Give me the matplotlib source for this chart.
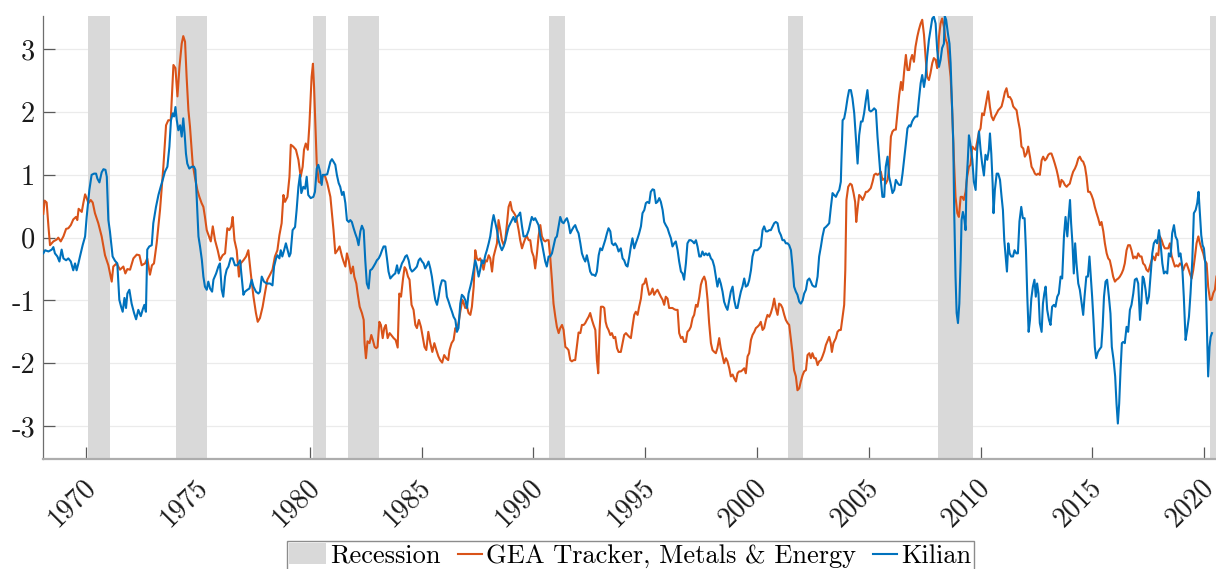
import matplotlib
matplotlib.use("Agg")
import matplotlib.pyplot as plt
from matplotlib.patches import Patch
from matplotlib.lines import Line2D
from matplotlib.legend_handler import HandlerBase
import matplotlib.transforms as mtransforms

# ---------------- data ----------------
gea_years = [
1968.08,1968.14,1968.23,1968.31,1968.38,1968.53,1968.68,1968.75,1968.86,1968.98,1969.10,1969.20,1969.31,1969.42,1969.54,1969.60,1969.66,1969.80,1969.87,1969.95,
1970.02,1970.10,1970.20,1970.29,1970.39,1970.54,1970.69,1970.84,1970.99,1971.14,1971.21,1971.36,1971.51,1971.66,1971.75,1971.84,1971.96,1972.11,1972.26,1972.38,
1972.48,1972.63,1972.73,1972.85,1972.94,1973.03,1973.15,1973.30,1973.45,1973.57,1973.67,1973.78,1973.90,1973.99,1974.08,1974.17,1974.27,1974.34,1974.42,1974.49,
1974.57,1974.64,1974.76,1974.87,1974.97,1975.06,1975.16,1975.24,1975.31,1975.39,1975.49,1975.57,1975.66,1975.76,1975.88,1975.98,1976.10,1976.21,1976.31,1976.40,
1976.49,1976.55,1976.63,1976.73,1976.83,1976.91,1977.03,1977.15,1977.25,1977.36,1977.48,1977.59,1977.67,1977.77,1977.89,1977.99,1978.10,1978.22,1978.33,1978.44,
1978.55,1978.64,1978.74,1978.82,1978.89,1979.00,1979.09,1979.15,1979.26,1979.38,1979.49,1979.59,1979.68,1979.74,1979.82,1979.91,1979.98,1980.08,1980.14,1980.19,
1980.25,1980.31,1980.40,1980.49,1980.58,1980.68,1980.78,
1980.92,1980.99,1981.06,1981.14,1981.24,1981.33,1981.44,1981.51,1981.59,1981.66,1981.74,1981.84,1981.93,1981.99,1982.08,1982.14,1982.23,1982.33,1982.41,1982.45,
1982.51,1982.58,1982.67,1982.75,1982.82,1982.90,1982.97,1983.03,1983.11,1983.18,1983.26,1983.33,1983.40,1983.48,1983.57,1983.64,1983.75,1983.84,1983.93,1984.00,
1984.08,1984.17,1984.24,1984.31,1984.39,1984.46,1984.55,1984.64,1984.72,1984.79,1984.88,1984.97,1985.06,1985.13,1985.21,1985.30,1985.39,1985.48,1985.57,1985.66,
1985.75,1985.83,1985.92,1986.01,1986.10,1986.19,1986.25,1986.34,1986.43,1986.51,1986.58,1986.66,1986.73,1986.82,1986.88,1986.95,1987.03,1987.10,1987.18,1987.25,
1987.33,1987.40,1987.47,1987.55,1987.62,1987.70,1987.77,1987.85,1987.92,1988.00,1988.07,1988.15,1988.22,1988.29,1988.37,1988.44,1988.52,1988.59,1988.67,1988.74,
1988.82,1988.89,1988.97,1989.04,1989.14,1989.23,1989.34,1989.41,1989.49,1989.56,1989.64,1989.71,1989.79,1989.86,1989.93,1990.01,1990.08,1990.16,1990.23,1990.31,
1990.38,1990.46,1990.53,1990.60,1990.68,1990.75,1990.83,1990.90,1990.98,1991.05,1991.13,1991.20,1991.28,1991.35,1991.43,1991.50,1991.57,1991.65,1991.72,1991.80,
1991.87,1991.95,1992.02,1992.10,1992.17,1992.25,1992.32,1992.39,1992.47,1992.54,1992.62,1992.69,1992.77,1992.84,1992.90,1992.96,1993.02,1993.11,1993.17,1993.23,
1993.29,1993.36,1993.44,1993.51,1993.59,1993.66,1993.74,1993.81,
1993.91,1993.99,1994.06,1994.14,1994.21,1994.29,1994.36,1994.43,1994.51,1994.58,1994.66,1994.73,1994.81,1994.88,1994.96,1995.03,1995.10,1995.18,1995.25,1995.33,
1995.40,1995.48,1995.55,1995.63,1995.70,1995.78,1995.85,1995.92,1996.00,1996.07,1996.15,1996.22,1996.30,1996.37,1996.45,1996.52,1996.60,1996.67,1996.74,1996.82,
1996.89,1996.97,1997.04,1997.12,1997.19,1997.27,1997.34,1997.42,1997.49,1997.56,1997.64,1997.71,1997.79,1997.86,1997.94,1998.01,1998.09,1998.16,1998.23,1998.31,
1998.38,1998.46,1998.53,1998.61,1998.68,1998.76,1998.83,1998.91,1998.98,1999.06,1999.13,1999.20,1999.28,1999.35,1999.43,1999.50,1999.58,1999.65,1999.73,1999.80,
1999.88,1999.95,2000.02,2000.10,2000.17,2000.25,2000.32,2000.40,2000.47,2000.55,2000.62,2000.70,2000.77,2000.84,2000.92,2000.99,2001.07,2001.14,2001.22,2001.29,
2001.37,2001.44,2001.52,2001.59,2001.66,2001.74,2001.81,2001.89,2001.96,2002.04,2002.11,2002.19,2002.26,2002.34,2002.41,2002.48,2002.56,2002.63,2002.71,2002.78,
2002.86,2002.93,2003.01,2003.08,2003.17,2003.23,2003.30,2003.35,2003.42,2003.53,2003.60,2003.68,2003.75,2003.83,2003.90,2003.95,2004.00,2004.08,2004.17,2004.24,
2004.32,2004.39,2004.44,2004.50,2004.57,2004.65,2004.72,2004.79,2004.87,2004.94,2005.02,2005.09,2005.17,2005.24,2005.32,2005.39,2005.47,2005.54,2005.61,2005.69,
2005.76,2005.84,2005.91,2005.99,2006.06,2006.14,2006.21,2006.29,2006.36,2006.44,2006.51,2006.58,2006.66,2006.73,2006.81,
2006.87,2006.94,2007.02,2007.09,2007.17,2007.24,2007.32,2007.39,2007.47,2007.54,2007.61,2007.69,2007.76,2007.84,2007.91,2007.99,2008.06,2008.14,2008.21,2008.28,
2008.36,2008.43,2008.51,2008.58,2008.66,2008.73,2008.81,2008.88,2008.96,2009.03,2009.11,2009.18,2009.25,2009.33,2009.40,2009.48,2009.55,2009.63,2009.70,2009.78,
2009.85,2009.93,2010.00,2010.07,2010.15,2010.22,2010.30,2010.34,2010.42,2010.49,2010.57,2010.64,2010.72,2010.79,2010.87,2010.94,2011.01,2011.09,2011.16,2011.24,
2011.31,2011.39,2011.46,2011.53,2011.61,2011.68,2011.76,2011.83,2011.91,2011.98,2012.06,2012.13,2012.21,2012.28,2012.36,2012.43,2012.50,2012.58,2012.65,2012.73,
2012.80,2012.88,2012.95,2013.03,2013.10,2013.17,2013.25,2013.32,2013.40,2013.47,2013.55,2013.62,2013.70,2013.77,2013.85,2013.92,2013.99,2014.07,2014.14,2014.22,
2014.29,2014.37,2014.44,2014.52,2014.59,2014.67,2014.74,2014.81,2014.89,2014.96,2015.04,2015.11,2015.19,2015.26,2015.34,2015.41,2015.49,2015.56,2015.64,2015.71,
2015.78,2015.86,2015.93,2016.01,2016.08,2016.16,2016.23,2016.31,2016.38,2016.45,2016.53,2016.60,2016.68,2016.75,2016.83,2016.90,2016.98,2017.05,2017.13,2017.20,
2017.27,2017.35,2017.42,2017.50,2017.57,2017.65,2017.72,2017.80,2017.87,2017.95,2018.02,2018.10,2018.17,2018.24,2018.32,2018.39,2018.47,2018.54,2018.62,2018.69,
2018.77,2018.84,2018.92,2018.99,2019.06,2019.14,2019.21,2019.29,2019.36,2019.44,2019.51,2019.59,2019.66,2019.74,2019.81,2019.88,2019.96,2020.03,2020.11,2020.18,
2020.26,2020.33,2020.41,2020.48,2020.55]
gea_values = [
0.38,0.59,0.56,0.18,-0.12,-0.06,-0.03,0.00,-0.06,0.02,0.14,0.15,0.20,0.29,0.33,0.28,0.46,0.41,0.55,0.69,
0.63,0.55,0.60,0.56,0.39,0.23,0.02,-0.28,-0.44,-0.70,-0.46,-0.41,-0.51,-0.46,-0.57,-0.50,-0.51,-0.33,-0.27,-0.28,
-0.44,-0.41,-0.33,-0.59,-0.44,-0.41,-0.09,0.44,1.13,1.79,1.87,1.87,2.75,2.70,2.25,2.72,3.09,3.21,3.12,2.56,
2.03,1.77,1.18,0.94,0.76,0.65,0.55,0.49,0.33,0.12,0.02,-0.06,0.18,-0.04,-0.20,-0.36,-0.28,-0.25,0.15,0.12,
0.18,0.33,-0.04,-0.20,-0.62,-0.41,-0.36,-0.30,-0.20,-0.57,-0.94,-1.20,-1.34,-1.28,-1.10,-0.89,-0.67,-0.59,-0.51,-0.30,
-0.20,0.04,0.23,0.68,0.57,0.65,0.97,1.48,1.45,1.40,1.24,0.97,1.13,1.40,1.50,1.40,1.79,2.56,2.77,2.40,
1.77,1.18,0.89,0.87,1.00,0.98,0.87,
0.65,0.39,0.12,-0.25,-0.20,-0.14,-0.30,-0.38,-0.46,-0.25,-0.36,-0.57,-0.46,-0.62,-0.73,-0.89,-1.10,-1.20,-1.31,-1.68,
-1.92,-1.65,-1.68,-1.55,-1.63,-1.74,-1.76,-1.74,-1.34,-1.39,-1.60,-1.44,-1.39,-1.60,-1.52,-1.55,-1.60,-1.63,-1.75,-0.89,
-0.94,-0.65,-0.47,-0.51,-0.62,-0.67,-1.07,-1.15,-1.39,-1.44,-1.31,-1.42,-1.60,-1.74,-1.79,-1.50,-1.68,-1.82,-1.68,-1.79,
-1.89,-1.95,-1.99,-1.87,-1.92,-1.95,-1.79,-1.68,-1.63,-1.44,-1.47,-1.34,-1.18,-0.99,-1.04,-1.12,-1.10,-1.20,-1.23,-1.10,
-0.78,-0.20,-0.33,-0.36,-0.33,-0.41,-0.51,-0.36,-0.38,-0.28,-0.33,-0.54,-0.30,-0.20,-0.09,0.28,0.12,-0.04,-0.12,-0.04,
0.23,0.49,0.57,0.44,0.39,0.33,0.12,-0.04,-0.17,-0.09,-0.01,0.02,-0.04,-0.04,-0.22,-0.30,-0.49,-0.25,0.02,0.20,
0.02,-0.04,-0.06,-0.04,-0.04,-0.30,-0.68,-1.05,-1.26,-1.42,-1.52,-1.44,-1.39,-1.47,-1.74,-1.76,-1.79,-1.95,-1.97,-1.95,
-1.95,-1.71,-1.51,-1.52,-1.39,-1.39,-1.36,-1.31,-1.26,-1.20,-1.31,-1.39,-1.47,-1.95,-2.16,-1.47,-1.10,-1.10,-1.12,-1.34,
-1.42,-1.47,-1.55,-1.52,-1.60,-1.58,-1.76,-1.82,
-1.82,-1.68,-1.55,-1.52,-1.55,-1.58,-1.60,-1.42,-1.23,-1.18,-1.23,-1.10,-0.97,-0.75,-0.73,-0.65,-0.78,-0.91,-0.89,-0.81,
-0.91,-0.86,-0.83,-0.89,-0.94,-0.99,-1.07,-0.94,-0.97,-1.12,-1.12,-1.12,-1.14,-1.15,-1.15,-1.52,-1.60,-1.58,-1.66,-1.66,
-1.50,-1.47,-1.42,-1.28,-1.23,-1.07,-1.10,-0.94,-0.75,-0.67,-0.62,-0.70,-0.99,-1.36,-1.68,-1.79,-1.82,-1.84,-1.76,-1.60,
-1.76,-1.89,-2.00,-1.92,-1.97,-2.08,-2.21,-2.18,-2.24,-2.29,-2.16,-2.13,-2.13,-2.11,-2.08,-2.16,-1.89,-1.84,-1.63,-1.55,
-1.50,-1.44,-1.42,-1.39,-1.34,-1.47,-1.44,-1.31,-1.23,-1.26,-1.20,-1.10,-0.97,-1.12,-1.23,-1.05,-1.07,-1.12,-1.23,-1.31,
-1.36,-1.39,-1.63,-1.84,-2.11,-2.21,-2.43,-2.40,-2.29,-2.19,-2.13,-2.11,-1.87,-1.84,-1.92,-1.84,-1.92,-1.92,-2.03,-1.97,
-1.95,-1.89,-1.81,-1.71,-1.63,-1.58,-1.68,-1.82,-1.68,-1.60,-1.50,-1.47,-1.47,-1.26,-1.07,-0.52,0.60,0.81,0.86,0.84,
0.71,0.57,0.25,0.46,0.68,0.65,0.60,0.65,0.73,0.73,0.76,0.79,0.89,1.00,1.02,1.00,1.02,1.05,0.92,0.94,
0.86,0.92,1.10,1.61,1.69,1.72,1.72,2.01,2.27,2.48,2.35,2.64,2.91,2.67,2.67,
2.83,2.91,2.80,3.04,3.20,3.31,3.41,3.47,3.23,2.88,2.56,2.51,2.62,2.78,2.86,2.83,2.70,3.20,3.41,3.49,
3.36,3.17,3.09,2.83,2.56,2.03,1.23,0.65,0.39,0.33,0.65,0.65,0.60,0.73,0.97,1.13,1.16,1.45,1.42,1.40,
1.53,1.69,1.74,1.98,1.95,2.09,2.25,2.33,2.08,1.93,1.87,1.93,1.98,2.03,2.06,2.09,2.19,2.32,2.38,2.24,
2.24,2.19,2.09,2.06,2.03,1.87,1.72,1.45,1.42,1.29,1.34,1.45,1.29,1.13,1.08,1.02,1.00,1.02,1.00,1.23,
1.29,1.23,1.26,1.32,1.34,1.34,1.26,1.18,1.08,0.97,0.81,0.92,0.89,0.84,0.81,0.84,0.86,0.97,1.05,1.10,
1.16,1.26,1.29,1.23,1.21,1.13,0.97,0.73,0.73,0.68,0.60,0.49,0.39,0.31,0.20,0.25,0.10,-0.09,-0.25,-0.33,
-0.36,-0.49,-0.62,-0.70,-0.67,-0.65,-0.62,-0.57,-0.51,-0.41,-0.20,-0.12,-0.12,-0.20,-0.33,-0.30,-0.33,-0.25,-0.30,-0.30,
-0.41,-0.44,-0.51,-0.54,-0.46,-0.36,-0.30,-0.36,-0.25,-0.28,0.02,-0.04,-0.12,-0.17,-0.17,-0.17,-0.09,-0.28,-0.38,-0.46,
-0.44,-0.46,-0.41,-0.44,-0.52,-0.44,-0.41,-0.49,-0.57,-0.65,-0.52,-0.30,-0.09,0.02,-0.09,-0.17,-0.25,-0.36,-0.41,-0.78,
-0.99,-0.99,-0.88,-0.83,-0.62]

kilian_years = [
1968.08,1968.16,1968.31,1968.46,1968.53,1968.60,1968.71,1968.80,1968.90,1968.98,1969.10,1969.20,1969.31,1969.42,1969.50,1969.57,1969.65,1969.72,1969.84,1969.95,
1970.02,1970.14,1970.24,1970.35,1970.44,1970.50,1970.59,1970.69,1970.77,1970.86,1970.92,1970.99,1971.06,1971.18,1971.29,1971.39,1971.48,1971.56,1971.63,1971.71,
1971.78,1971.84,1971.93,1972.03,1972.14,1972.23,1972.33,1972.44,1972.53,1972.60,1972.67,1972.73,1972.82,1972.93,1973.00,1973.12,1973.23,1973.33,1973.42,1973.52,
1973.63,1973.72,1973.79,1973.87,1973.93,1973.99,1974.05,1974.12,1974.20,1974.27,1974.34,1974.40,1974.46,1974.52,1974.61,1974.72,1974.82,1974.88,1974.94,1975.02,
1975.09,1975.17,1975.24,1975.31,1975.39,1975.46,1975.54,1975.63,1975.69,1975.81,1975.91,1975.98,1976.06,1976.13,1976.21,1976.28,1976.36,1976.46,1976.55,1976.65,
1976.76,1976.88,1976.95,1977.03,1977.10,1977.21,1977.30,1977.40,1977.48,1977.59,1977.70,1977.77,1977.85,1977.95,1978.07,1978.22,1978.33,1978.40,1978.49,1978.55,
1978.64,1978.70,1978.77,1978.85,1978.93,1979.01,1979.08,1979.14,1979.23,1979.34,1979.41,1979.49,1979.56,1979.62,1979.71,1979.79,1979.86,1979.93,1980.04,1980.16,
1980.23,1980.31,1980.38,1980.46,1980.53,1980.58,1980.68,1980.78,
1980.92,1980.99,1981.06,1981.14,1981.21,1981.29,1981.36,1981.44,1981.51,1981.59,1981.66,1981.74,1981.81,1981.88,1981.96,1982.03,1982.11,1982.18,1982.26,1982.33,
1982.41,1982.48,1982.55,1982.63,1982.70,1982.78,1982.85,1982.93,1983.00,1983.08,1983.15,1983.23,1983.30,1983.38,1983.45,1983.52,1983.60,1983.67,1983.75,1983.82,
1983.90,1983.97,1984.05,1984.12,1984.20,1984.27,1984.34,1984.42,1984.49,1984.57,1984.64,1984.72,1984.79,1984.87,1984.94,1985.02,1985.09,1985.16,1985.24,1985.31,
1985.39,1985.46,1985.54,1985.61,1985.69,1985.76,1985.83,1985.91,1985.98,1986.06,1986.13,1986.21,1986.28,1986.36,1986.43,1986.51,1986.58,1986.65,1986.73,1986.80,
1986.88,1986.95,1987.03,1987.10,1987.18,1987.25,1987.33,1987.40,1987.47,1987.55,1987.62,1987.70,1987.77,1987.85,1987.92,1988.00,1988.07,1988.15,1988.22,1988.29,
1988.37,1988.44,1988.52,1988.59,1988.67,1988.74,1988.82,1988.89,1988.97,1989.04,1989.11,1989.19,1989.26,1989.34,1989.41,1989.49,1989.56,1989.64,1989.71,1989.79,
1989.86,1989.93,1990.01,1990.08,1990.16,1990.23,1990.31,1990.38,1990.46,1990.53,1990.60,1990.68,1990.75,1990.83,1990.90,1990.98,1991.05,1991.13,1991.20,1991.28,
1991.35,1991.43,1991.50,1991.57,1991.65,1991.72,1991.80,1991.87,1991.95,1992.02,1992.10,1992.17,1992.25,1992.32,1992.39,1992.47,1992.54,1992.62,1992.69,1992.77,
1992.84,1992.92,1992.99,1993.07,1993.14,1993.21,1993.29,1993.36,1993.44,1993.51,1993.59,1993.66,1993.74,1993.81,
1993.91,1993.99,1994.06,1994.14,1994.21,1994.29,1994.36,1994.43,1994.51,1994.58,1994.66,1994.73,1994.81,1994.88,1994.96,1995.03,1995.10,1995.18,1995.25,1995.33,
1995.40,1995.48,1995.55,1995.63,1995.70,1995.78,1995.85,1995.92,1996.00,1996.07,1996.15,1996.22,1996.30,1996.37,1996.45,1996.52,1996.60,1996.67,1996.74,1996.82,
1996.89,1996.97,1997.04,1997.12,1997.19,1997.27,1997.34,1997.42,1997.49,1997.56,1997.64,1997.71,1997.79,1997.86,1997.94,1998.01,1998.09,1998.16,1998.23,1998.31,
1998.38,1998.46,1998.53,1998.61,1998.68,1998.76,1998.83,1998.91,1998.98,1999.06,1999.13,1999.20,1999.28,1999.35,1999.43,1999.50,1999.58,1999.65,1999.73,1999.80,
1999.88,1999.95,2000.02,2000.10,2000.17,2000.25,2000.32,2000.40,2000.47,2000.55,2000.62,2000.70,2000.77,2000.84,2000.92,2000.99,2001.07,2001.14,2001.22,2001.29,
2001.37,2001.44,2001.52,2001.59,2001.66,2001.74,2001.81,2001.89,2001.96,2002.04,2002.11,2002.19,2002.26,2002.34,2002.41,2002.48,2002.56,2002.63,2002.71,2002.78,
2002.86,2002.93,2003.01,2003.08,2003.16,2003.23,2003.30,2003.38,2003.45,2003.53,2003.60,2003.68,2003.75,2003.83,2003.90,2003.97,2004.05,2004.12,2004.20,2004.27,
2004.35,2004.42,2004.50,2004.57,2004.65,2004.72,2004.79,2004.87,2004.94,2005.02,2005.09,2005.17,2005.24,2005.32,2005.39,2005.47,2005.54,2005.61,2005.69,2005.76,
2005.84,2005.91,2005.99,2006.06,2006.14,2006.21,2006.29,2006.36,2006.44,2006.51,2006.58,2006.66,2006.73,2006.81,
2006.87,2006.94,2007.02,2007.09,2007.17,2007.24,2007.32,2007.39,2007.47,2007.54,2007.61,2007.69,2007.76,2007.84,2007.91,2007.99,2008.06,2008.14,2008.21,2008.28,
2008.36,2008.40,2008.46,2008.54,2008.61,2008.66,2008.73,2008.78,2008.82,2008.88,2008.93,2008.99,2009.05,2009.11,2009.15,2009.21,2009.28,2009.33,2009.37,2009.43,
2009.48,2009.55,2009.63,2009.70,2009.78,2009.85,2009.93,2010.00,2010.07,2010.15,2010.22,2010.30,2010.37,2010.42,2010.48,2010.54,2010.58,2010.64,2010.72,2010.79,
2010.87,2010.94,2011.00,2011.06,2011.12,2011.18,2011.24,2011.30,2011.37,2011.45,2011.52,2011.60,2011.67,2011.74,2011.82,2011.89,2011.97,2012.03,2012.09,2012.15,
2012.21,2012.27,2012.34,2012.41,2012.47,2012.53,2012.59,2012.65,2012.73,2012.79,2012.85,2012.91,2012.98,2013.06,2013.13,2013.20,2013.28,2013.35,2013.43,2013.50,
2013.58,2013.65,2013.73,2013.80,2013.88,2013.94,2014.00,2014.05,2014.11,2014.17,2014.23,2014.29,2014.37,2014.44,2014.52,2014.59,2014.65,2014.73,2014.80,2014.87,
2014.93,2014.99,2015.05,2015.11,2015.17,2015.25,2015.32,2015.40,2015.46,2015.52,2015.59,2015.66,2015.74,2015.81,2015.87,2015.95,2016.02,2016.08,2016.14,2016.20,
2016.26,2016.32,2016.38,2016.45,2016.53,2016.60,2016.68,2016.75,2016.83,2016.90,2016.98,2017.05,2017.13,2017.19,2017.25,2017.30,2017.38,2017.45,2017.53,2017.60,
2017.68,2017.75,2017.83,2017.90,2017.98,2018.05,2018.13,2018.20,2018.27,2018.35,2018.42,2018.50,2018.57,2018.65,2018.72,2018.80,2018.87,2018.94,2019.02,2019.09,
2019.17,2019.24,2019.32,2019.39,2019.47,2019.54,2019.62,2019.69,2019.75,2019.81,2019.87,2019.93,2019.99,2020.05,2020.09,2020.14,2020.18,2020.24,2020.29,2020.35]
kilian_values = [
-0.25,-0.20,-0.22,-0.19,-0.15,-0.25,-0.30,-0.38,-0.19,-0.33,-0.36,-0.33,-0.38,-0.52,-0.41,-0.52,-0.41,-0.30,-0.12,0.02,
0.33,0.76,1.00,1.02,1.02,0.94,0.88,1.04,1.09,1.08,0.97,0.28,0.10,-0.30,-0.37,-0.41,-0.99,-1.10,-1.18,-0.96,
-1.12,-0.89,-0.83,-1.05,-1.20,-1.30,-1.15,-1.25,-1.14,-1.07,-1.18,-0.19,-0.14,-0.12,0.23,0.49,0.68,0.81,0.92,1.05,
1.13,1.45,1.87,1.98,1.93,2.08,1.87,1.71,1.79,1.61,1.90,1.66,1.34,1.18,1.10,1.13,1.13,1.08,0.65,0.02,
-0.14,-0.35,-0.62,-0.78,-0.83,-0.70,-0.81,-0.86,-0.67,-0.57,-0.46,-0.41,-0.83,-0.94,-0.62,-0.51,-0.46,-0.33,-0.33,-0.44,
-0.44,-0.36,-0.62,-0.91,-0.86,-0.83,-0.81,-0.67,-0.78,-0.86,-0.89,-0.86,-0.62,-0.70,-0.73,-0.73,-0.76,-0.46,-0.33,-0.28,
-0.33,-0.20,-0.30,-0.20,-0.09,-0.20,-0.30,-0.25,0.12,0.17,0.44,0.81,1.00,0.71,0.81,0.78,0.97,0.68,0.63,0.65,
0.73,1.10,1.16,1.05,0.84,1.00,1.00,1.01,
1.21,1.25,1.21,1.16,1.00,0.87,0.81,0.68,0.73,0.55,0.28,0.25,0.28,0.25,0.15,0.07,-0.01,-0.12,0.10,0.19,
0.12,-0.36,-0.73,-0.81,-0.52,-0.50,-0.46,-0.41,-0.36,-0.33,-0.28,-0.20,-0.14,-0.14,-0.33,-0.54,-0.65,-0.62,-0.59,-0.57,
-0.44,-0.57,-0.49,-0.41,-0.36,-0.30,-0.28,-0.36,-0.49,-0.54,-0.52,-0.49,-0.46,-0.36,-0.33,-0.38,-0.41,-0.49,-0.44,-0.38,
-0.49,-0.62,-0.83,-0.99,-1.07,-0.94,-0.78,-0.68,-0.68,-0.70,-0.94,-1.02,-1.10,-1.18,-1.26,-1.31,-1.50,-1.44,-1.05,-0.91,
-0.94,-0.99,-1.12,-0.89,-0.78,-0.67,-0.51,-0.36,-0.46,-0.62,-0.51,-0.36,-0.41,-0.28,-0.20,-0.09,0.02,0.23,0.36,0.25,
0.12,-0.04,-0.14,-0.20,-0.14,-0.06,0.07,0.17,0.23,0.28,0.33,0.25,0.33,0.36,0.40,0.18,0.02,0.02,0.04,0.12,
0.23,0.33,0.28,0.31,0.25,0.20,0.02,-0.09,-0.25,-0.38,-0.46,-0.30,-0.30,-0.25,-0.14,-0.01,0.02,0.18,0.33,0.25,
0.23,0.28,0.31,0.23,0.07,0.12,0.17,0.20,0.12,0.07,-0.09,-0.25,-0.33,-0.38,-0.28,-0.41,-0.54,-0.59,-0.59,-0.61,
-0.54,-0.28,-0.17,-0.20,-0.12,-0.04,0.07,0.15,0.10,-0.09,-0.12,-0.09,-0.14,-0.22,
-0.17,-0.33,-0.36,-0.44,-0.46,-0.30,-0.14,-0.01,-0.17,-0.09,-0.01,0.07,0.18,0.39,0.44,0.55,0.57,0.55,0.73,0.77,
0.76,0.55,0.57,0.63,0.57,0.44,0.25,0.20,0.15,0.07,-0.01,-0.14,-0.09,-0.06,-0.20,-0.38,-0.54,-0.57,-0.67,-0.41,
-0.09,-0.04,-0.04,-0.06,-0.09,-0.04,-0.14,-0.30,-0.30,-0.22,-0.28,-0.25,-0.28,-0.25,-0.33,-0.36,-0.46,-0.62,-0.78,-0.65,
-0.73,-0.86,-1.02,-1.10,-1.15,-0.99,-0.86,-0.78,-0.99,-1.12,-1.12,-0.99,-0.86,-0.78,-0.65,-0.78,-0.76,-0.68,-0.52,-0.30,
-0.20,-0.20,-0.20,-0.17,-0.14,0.12,0.18,0.10,0.10,0.12,0.12,0.18,0.23,0.25,0.23,0.10,0.04,-0.04,-0.04,-0.09,
-0.09,-0.12,-0.20,-0.46,-0.78,-0.86,-0.91,-1.02,-1.05,-1.00,-0.89,-0.83,-0.68,-0.65,-0.70,-0.76,-0.78,-0.78,-0.62,-0.30,
-0.14,0.02,0.15,0.17,0.20,0.23,0.47,0.71,0.68,0.65,0.71,0.76,0.89,1.87,1.90,2.03,2.22,2.35,2.35,2.22,
1.98,1.61,1.18,1.63,1.85,1.85,1.98,2.19,2.35,2.03,2.01,2.03,2.06,2.03,1.61,1.24,0.92,0.65,0.65,1.13,
1.29,0.97,0.84,0.71,0.76,0.92,0.87,0.84,0.84,1.02,1.24,1.50,1.74,1.79,
1.77,1.85,1.90,1.93,1.93,2.19,2.46,2.59,2.40,2.56,2.88,3.15,3.31,3.49,3.52,3.41,2.99,2.72,2.83,3.02,
3.09,3.53,3.47,3.25,3.09,2.78,2.03,1.50,0.44,-0.62,-1.20,-1.36,-1.05,-0.36,0.28,0.41,0.28,0.12,0.87,1.24,
1.63,1.48,1.24,0.89,0.76,1.40,1.69,1.40,1.18,0.99,1.32,1.24,1.40,1.66,1.34,0.86,0.39,0.76,1.02,1.02,
0.92,0.65,0.44,-0.04,-0.30,-0.54,-0.09,-0.25,-0.30,-0.30,-0.20,-0.25,-0.25,0.26,0.49,0.31,0.31,-0.20,-0.94,-1.50,
-1.31,-0.97,-0.78,-0.67,-0.94,-0.73,-0.89,-1.36,-1.50,-1.05,-0.89,-0.78,-1.15,-1.31,-1.39,-1.10,-1.07,-1.10,-0.94,-0.89,
-0.62,-0.65,0.02,0.33,0.02,0.33,0.60,0.23,-0.09,-0.57,-0.09,-0.41,-0.73,-0.83,-1.05,-1.23,-0.94,-0.62,-0.62,-0.30,
-0.62,-0.94,-1.31,-1.74,-1.92,-1.82,-1.78,-1.74,-1.42,-0.94,-0.70,-0.67,-0.94,-1.21,-1.74,-1.95,-2.21,-2.64,-2.96,-2.64,
-2.11,-1.68,-1.66,-1.68,-1.42,-1.50,-1.15,-1.07,-0.89,-0.67,-0.65,-0.73,-1.31,-1.05,-0.62,-0.65,-0.83,-1.05,-0.94,-0.62,
-0.25,-0.09,-0.04,-0.09,0.12,-0.09,-0.41,-0.57,-0.54,-0.57,-0.25,-0.30,0.07,0.20,0.02,-0.04,-0.30,-0.25,-0.46,-0.94,
-1.63,-1.47,-1.26,-0.89,-0.36,0.39,0.44,0.55,0.73,0.39,0.04,-0.12,-0.17,-0.41,-0.99,-1.68,-2.21,-1.74,-1.58,-1.52]

recession_start = [1970.10, 1974.00, 1980.16, 1981.69, 1990.68, 2001.37, 2008.09, 2020.27]
recession_end   = [1971.07, 1975.39, 1980.72, 1983.08, 1991.40, 2002.08, 2009.66, 2020.70]

x_ticks = [1970, 1975, 1980, 1985, 1990, 1995, 2000, 2005, 2010, 2015, 2020]
y_ticks = [-3, -2, -1, 0, 1, 2, 3]

labels = ["Recession", "GEA Tracker, Metals & Energy", "Kilian"]
c_gea = "#D95319"
c_kil = "#0072BD"
c_rec = "#D9D9D9"

# ---------------- figure ----------------
plt.rcParams["font.family"] = ["cmr10", "DejaVu Serif"]
plt.rcParams["axes.unicode_minus"] = False
plt.rcParams["mathtext.fontset"] = "cm"

W, H = 1216, 569
fig = plt.figure(figsize=(W / 100, H / 100), dpi=100)
ax = fig.add_axes([43.3 / W, 110 / H, (W - 43.3) / W, (459 - 15.7) / H])

for s, e in zip(recession_start, recession_end):
    ax.axvspan(s, e, color=c_rec, lw=0, zorder=1)

ax.plot(gea_years, gea_values, color=c_gea, lw=1.5, zorder=3)
ax.plot(kilian_years, kilian_values, color=c_kil, lw=1.5, zorder=4)

ax.set_xlim(1968.08, 2020.53)
ax.set_ylim(-3.525, 3.535)

ax.yaxis.grid(True, color="#EBEBEB", lw=0.9, zorder=0)
ax.set_axisbelow(True)
for sp in ["top", "right"]:
    ax.spines[sp].set_visible(False)
ax.spines["left"].set_color("#6E6E6E")
ax.spines["left"].set_linewidth(0.9)
ax.spines["bottom"].set_color("#ADADAD")
ax.spines["bottom"].set_linewidth(1.6)
ax.tick_params(axis="both", direction="in", length=8.5, width=0.9,
               color="#5A5A5A", labelcolor="#1A1A1A")
ax.tick_params(axis="y", pad=6.0)
ax.tick_params(axis="x", pad=11)

ax.set_xticks(x_ticks)
ax.set_yticks(y_ticks)
ax.set_yticklabels([str(v) for v in y_ticks], fontsize=20.5)
ax.set_xticklabels([str(v) for v in x_ticks], rotation=45, ha="right",
                   va="top", rotation_mode="anchor", fontsize=20)
shift = mtransforms.ScaledTranslation(-4 / 100, 0, fig.dpi_scale_trans)
for lab in ax.get_xticklabels():
    lab.set_transform(lab.get_transform() + shift)


class ShortLine(HandlerBase):
    def create_artists(self, legend, orig_handle, xdescent, ydescent,
                       width, height, fontsize, trans):
        y = height / 2.0 - ydescent
        x0 = -xdescent + width * 0.34
        ln = Line2D([x0, -xdescent + width], [y, y],
                    color=orig_handle.get_color(), lw=orig_handle.get_linewidth())
        ln.set_transform(trans)
        return [ln]


h_rec = Patch(facecolor=c_rec, edgecolor="none")
h_gea = Line2D([], [], color=c_gea, lw=1.5)
h_kil = Line2D([], [], color=c_kil, lw=1.5)
leg = fig.legend([h_rec, h_gea, h_kil], labels, ncol=3, loc="upper center",
                 bbox_to_anchor=(630.4 / W, 1 - 540.7 / H),
                 bbox_transform=fig.transFigure, fontsize=19, frameon=True,
                 fancybox=False, edgecolor="#8C8C8C", framealpha=1,
                 borderpad=0.1, handlelength=1.38, handleheight=0.85,
                 handletextpad=0.15, columnspacing=0.2, borderaxespad=0,
                 handler_map={Line2D: ShortLine()})
leg.get_frame().set_linewidth(1.0)

fig.savefig("out.png", dpi=100)
